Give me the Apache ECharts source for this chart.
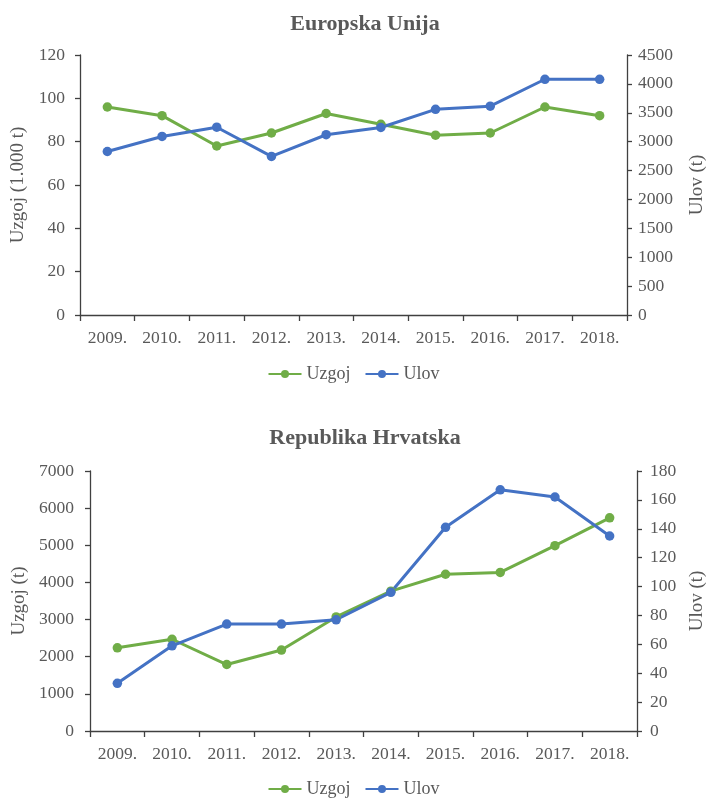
<!DOCTYPE html>
<html><head><meta charset="utf-8">
<script src="https://cdn.jsdelivr.net/npm/echarts@6/dist/echarts.min.js"></script>
<style>html,body{margin:0;padding:0;background:#fff}#c{width:707px;height:798px}</style>
</head><body><div id="c"></div>
<script>
const years = ['2009.','2010.','2011.','2012.','2013.','2014.','2015.','2016.','2017.','2018.'];
const euUzgoj = [96, 92, 78, 84, 93, 88, 83, 84, 96, 92];
const euUlov = [2830, 3090, 3250, 2745, 3120, 3245, 3560, 3615, 4080, 4080];
const hrUzgoj = [2240, 2470, 1790, 2180, 3070, 3765, 4220, 4270, 4990, 5740];
const hrUlov = [33, 59, 74, 74, 77, 96, 141, 167, 162, 135];

const green = '#70AD47', blue = '#4472C4', txt = '#595959', axc = '#404040';
const font = 'Liberation Serif';
const FS = 17.5;
const lab = {color: txt, fontFamily: font, fontSize: FS};
function yAx(grid, min, max, interval, name, pos, margin, gap) {
  return {type:'value', gridIndex:grid, min:min, max:max, interval:interval, position:pos,
    name:name, nameLocation:'middle', nameRotate:90, nameGap:gap,
    nameTextStyle:{color:txt, fontFamily:font, fontSize:19},
    axisLine:{show:true, lineStyle:{color:axc, width:1.3}},
    axisTick:{show:true, length:5, lineStyle:{color:axc, width:1.3}},
    axisLabel:Object.assign({margin:margin, formatter:function(v){return String(v);}}, lab),
    splitLine:{show:false}};
}
function xAx(grid) {
  return {type:'category', gridIndex:grid, data:years, boundaryGap:true,
    axisLine:{lineStyle:{color:axc, width:1.3}},
    axisTick:{show:true, length:6, alignWithLabel:false, lineStyle:{color:axc, width:1.3}},
    axisLabel:Object.assign({margin:14, interval:0}, lab)};
}
function ser(name, x, y, data, color) {
  return {name:name, type:'line', xAxisIndex:x, yAxisIndex:y, data:data,
    symbol:'circle', symbolSize:9.5, lineStyle:{width:3, color:color},
    itemStyle:{color:color}, color:color};
}
const legendText = {color:txt, fontFamily:font, fontSize:18};
const chart = echarts.init(document.getElementById('c'), null, {renderer:'canvas'});
chart.setOption({
  animation:false,
  title:[
    {text:'Europska Unija', left:360, textAlign:'center', top:8, textStyle:{fontFamily:font, fontSize:22, fontWeight:'bold', color:txt}},
    {text:'Republika Hrvatska', left:360, textAlign:'center', top:422, textStyle:{fontFamily:font, fontSize:22, fontWeight:'bold', color:txt}}
  ],
  legend:[
    {data:['Uzgoj','Ulov'], top:360, left:'center', itemWidth:33, itemHeight:10, itemGap:14, textStyle:legendText},
    {data:['Uzgoj','Ulov'], top:775, left:'center', itemWidth:33, itemHeight:10, itemGap:14, textStyle:legendText}
  ],
  grid:[
    {left:80, right:80, top:55, height:260, containLabel:false, outerBoundsMode:'none'},
    {left:90, right:70, top:471, height:260, containLabel:false, outerBoundsMode:'none'}
  ],
  xAxis:[xAx(0), xAx(1)],
  yAxis:[
    yAx(0, 0, 120, 20, 'Uzgoj (1.000 t)', 'left', 15, 52),
    yAx(0, 0, 4500, 500, 'Ulov (t)', 'right', 11, 61),
    yAx(1, 0, 7000, 1000, 'Uzgoj (t)', 'left', 16, 55),
    yAx(1, 0, 180, 20, 'Ulov (t)', 'right', 13, 51)
  ],
  series:[
    ser('Uzgoj', 0, 0, euUzgoj, green),
    ser('Ulov', 0, 1, euUlov, blue),
    ser('Uzgoj', 1, 2, hrUzgoj, green),
    ser('Ulov', 1, 3, hrUlov, blue)
  ]
});
</script></body></html>
